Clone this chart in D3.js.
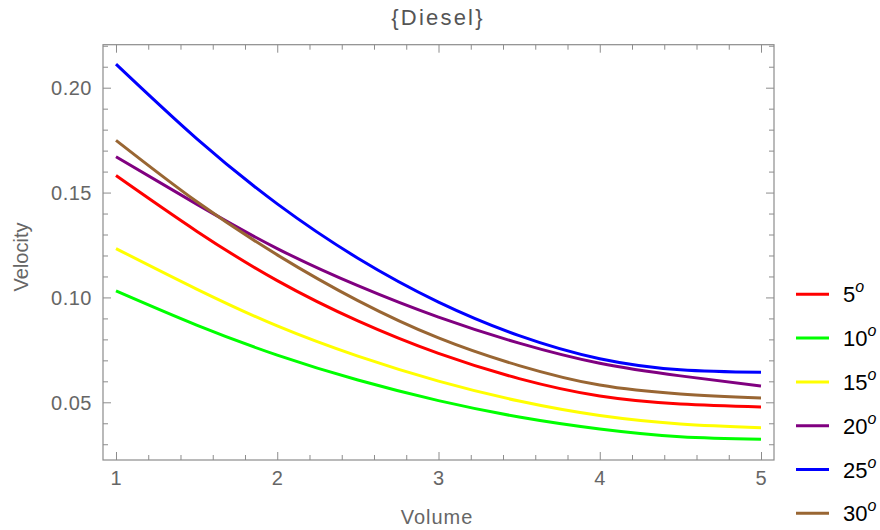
<!DOCTYPE html>
<html>
<head>
<meta charset="utf-8">
<script src="https://cdn.jsdelivr.net/npm/d3@7"></script>
<style>
  body { margin: 0; background: #fff; }
  svg { display: block; font-family: "Liberation Sans", Arial, sans-serif; }
</style>
</head>
<body>
<div id="chart"></div>
<script>
var volumes = [1, 1.5, 2, 2.5, 3, 3.5, 4, 4.5, 5];

// velocity for each angle
var v5  = [0.1581, 0.1316, 0.1080, 0.0888, 0.0733, 0.0613, 0.0530, 0.0492, 0.0478];
var v10 = [0.1031, 0.0868, 0.0725, 0.0606, 0.0508, 0.0430, 0.0373, 0.0336, 0.0324];
var v15 = [0.1233, 0.1040, 0.0864, 0.0720, 0.0601, 0.0506, 0.0437, 0.0397, 0.0379];
var v20 = [0.1671, 0.1445, 0.1233, 0.1056, 0.0906, 0.0782, 0.0686, 0.0626, 0.0578];
var v25 = [0.2112, 0.1757, 0.1446, 0.1187, 0.0978, 0.0818, 0.0708, 0.0655, 0.0643];
var v30 = [0.1749, 0.1457, 0.1203, 0.0985, 0.0807, 0.0675, 0.0582, 0.0540, 0.0520];

var angles = ["5", "10", "15", "20", "25", "30"];
var seriesVals = [v5, v10, v15, v20, v25, v30];
var colors = ["#ff0000", "#00ff00", "#ffff00", "#800080", "#0000ff", "#996633"];

var xMajor = [1, 2, 3, 4, 5];
var yMajor = [0.05, 0.10, 0.15, 0.20];

var width = 880, height = 530;
var frame = {left: 103, right: 774, top: 44.7, bottom: 460};

var svg = d3.select("#chart").append("svg")
    .attr("width", width)
    .attr("height", height);

var x = d3.scaleLinear().domain([0.9194, 5.0806]).range([frame.left, frame.right]);
var y = d3.scaleLinear().domain([0.02249, 0.2205]).range([frame.bottom, frame.top]);

var frameCol = "#8c8c8c", labelCol = "#666";

// minor ticks every 0.2 / 0.01
var xMinor = d3.range(1, 5.001, 0.2).filter(function(d) { return Math.abs(d - Math.round(d)) > 1e-6; });
var yMinor = d3.range(0.03, 0.2201, 0.01).filter(function(d) {
  return yMajor.every(function(m) { return Math.abs(m - d) > 1e-6; });
});

// axes, ticks on all four sides pointing in
function addAxis(axis, tr) {
  svg.append("g").attr("transform", tr).call(axis)
    .call(function(g) {
      g.select(".domain").remove();
      g.selectAll("line").attr("stroke", frameCol);
      g.selectAll("text").remove();
    });
}
addAxis(d3.axisTop(x).tickValues(xMajor).tickSize(8), "translate(0," + frame.bottom + ")");
addAxis(d3.axisTop(x).tickValues(xMinor).tickSize(5), "translate(0," + frame.bottom + ")");
addAxis(d3.axisBottom(x).tickValues(xMajor).tickSize(8), "translate(0," + frame.top + ")");
addAxis(d3.axisBottom(x).tickValues(xMinor).tickSize(5), "translate(0," + frame.top + ")");
addAxis(d3.axisRight(y).tickValues(yMajor).tickSize(8), "translate(" + frame.left + ",0)");
addAxis(d3.axisRight(y).tickValues(yMinor).tickSize(5), "translate(" + frame.left + ",0)");
addAxis(d3.axisLeft(y).tickValues(yMajor).tickSize(8), "translate(" + frame.right + ",0)");
addAxis(d3.axisLeft(y).tickValues(yMinor).tickSize(5), "translate(" + frame.right + ",0)");

svg.append("rect")
    .attr("x", frame.left).attr("y", frame.top)
    .attr("width", frame.right - frame.left)
    .attr("height", frame.bottom - frame.top)
    .attr("fill", "none").attr("stroke", frameCol).attr("stroke-width", 1.2);

// tick labels
svg.selectAll(".xlab").data(xMajor).enter().append("text")
    .attr("x", function(d) { return x(d); })
    .attr("y", 485)
    .attr("text-anchor", "middle")
    .attr("fill", labelCol).attr("font-size", 20)
    .text(function(d) { return d; });

svg.selectAll(".ylab").data(yMajor).enter().append("text")
    .attr("x", 92)
    .attr("y", function(d) { return y(d) + 7.5; })
    .attr("text-anchor", "end")
    .attr("fill", labelCol).attr("font-size", 20)
    .attr("letter-spacing", 0.5)
    .text(function(d) { return d3.format(".2f")(d); });

// titles
svg.append("text")
    .attr("x", 438).attr("y", 25)
    .attr("text-anchor", "middle")
    .attr("fill", "#555").attr("font-size", 22)
    .attr("letter-spacing", 2.2)
    .text("{Diesel}");

svg.append("text")
    .attr("x", 437).attr("y", 524)
    .attr("text-anchor", "middle")
    .attr("fill", labelCol).attr("font-size", 20)
    .attr("letter-spacing", 1)
    .text("Volume");

svg.append("text")
    .attr("transform", "translate(28,257) rotate(-90)")
    .attr("text-anchor", "middle")
    .attr("fill", labelCol).attr("font-size", 20)
    .text("Velocity");

// curves
var line = d3.line()
    .x(function(d) { return x(d[0]); })
    .y(function(d) { return y(d[1]); })
    .curve(d3.curveNatural);

seriesVals.forEach(function(vals, i) {
  svg.append("path")
      .datum(volumes.map(function(v, j) { return [v, vals[j]]; }))
      .attr("fill", "none")
      .attr("stroke", colors[i])
      .attr("stroke-width", 3)
      .attr("d", line);
});

// legend
var legend = svg.append("g");
angles.forEach(function(a, i) {
  var ly = 294.3 + i * 43.8;
  legend.append("line")
      .attr("x1", 796).attr("x2", 829)
      .attr("y1", ly).attr("y2", ly)
      .attr("stroke", colors[i]).attr("stroke-width", 3);
  var t = legend.append("text")
      .attr("x", 843).attr("y", ly + 8)
      .attr("font-size", 22).attr("fill", "#000");
  t.append("tspan").text(a);
  t.append("tspan").attr("dy", -10).attr("font-size", 16)
      .attr("font-style", "italic").text("o");
});
</script>
</body>
</html>
